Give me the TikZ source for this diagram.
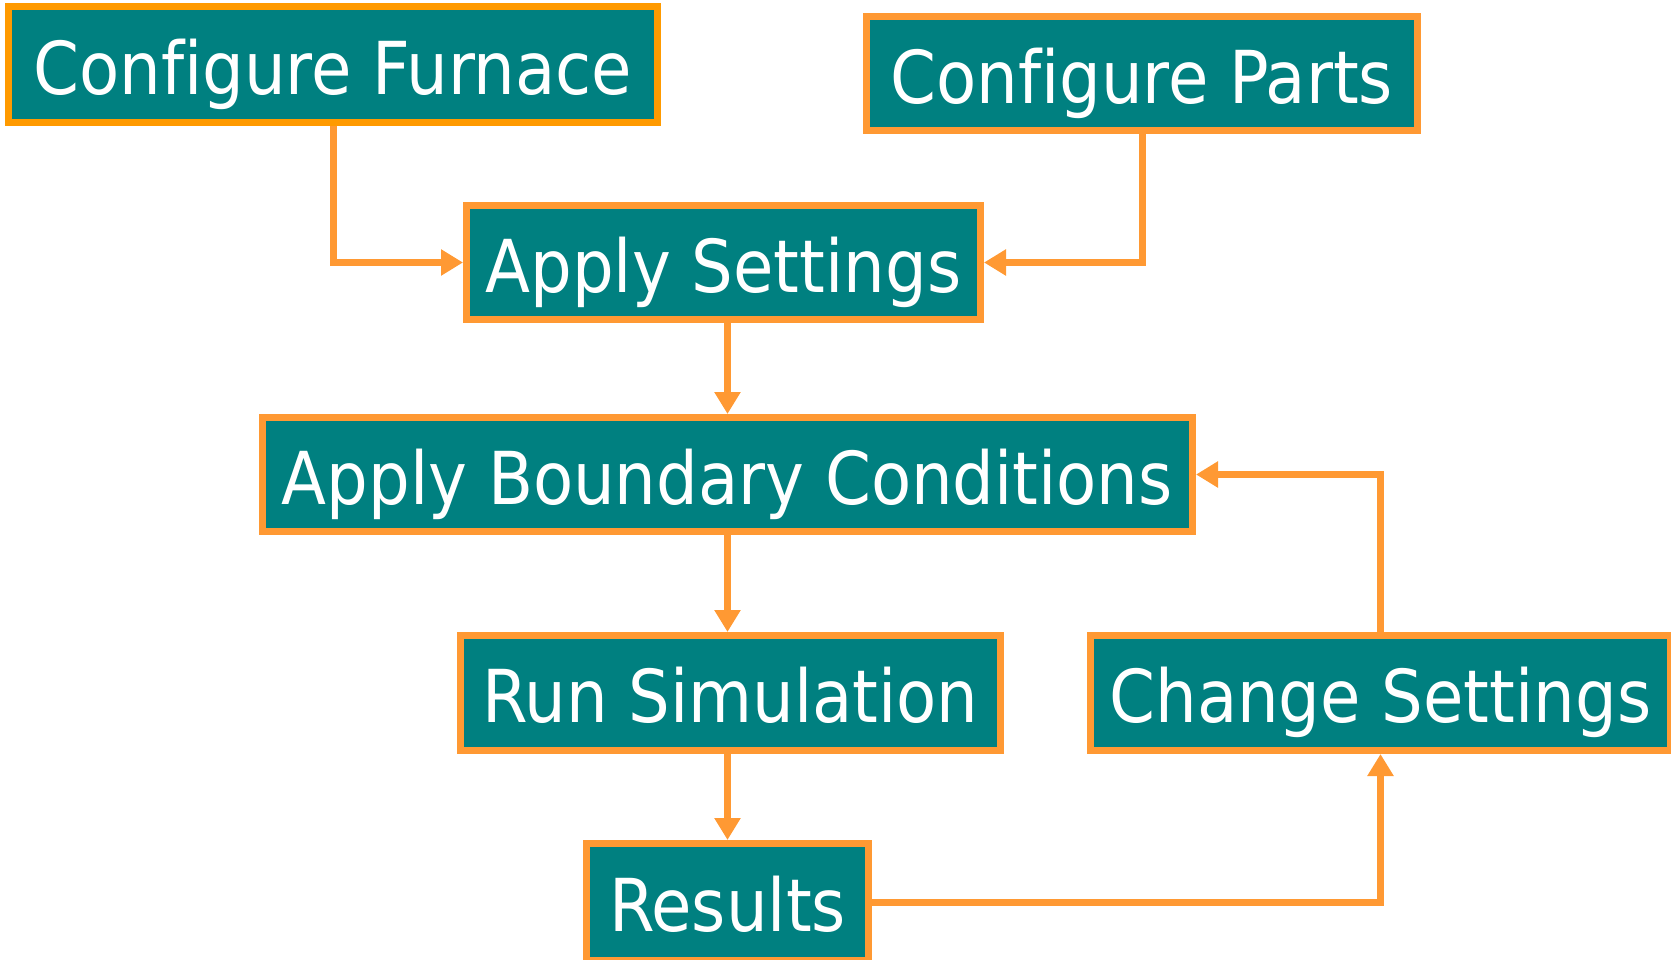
\documentclass[tikz,border=0pt]{standalone}
\usepackage{fontspec}
\usetikzlibrary{arrows.meta}
\newfontfamily\boxfont[Ligatures=NoCommon]{DejaVu Sans Condensed}
\definecolor{tealbox}{HTML}{008080}
\definecolor{orgline}{HTML}{FF9933}
\definecolor{orgdeep}{HTML}{FF9A00}
\tikzset{
  flowbox/.style={draw=orgline, line width=7pt, fill=tealbox, text=white, inner sep=0pt,
    font=\boxfont\fontsize{73}{73}\selectfont, text height=59pt, text depth=0pt, align=center},
  arr/.style={draw=orgline, line width=7pt, -{Triangle[length=22pt,width=25pt]}},
}
\begin{document}
\begin{tikzpicture}[x=1pt,y=-1pt]
\useasboundingbox (0,0) rectangle (1671,959);
\node[flowbox, draw=orgdeep, minimum width=649pt, minimum height=116pt] (cf) at (333,64.5) {Configure Furnace};
\node[flowbox, minimum width=551pt, minimum height=114pt] (cp) at (1142,73.5) {Configure Parts};
\node[flowbox, minimum width=514pt, minimum height=114pt] (as) at (723.5,262.5) {Apply Settings};
\node[flowbox, minimum width=930pt, minimum height=114pt] (abc) at (727.5,474.5) {Apply Boundary Conditions};
\node[flowbox, minimum width=540pt, minimum height=115pt] (rs) at (730.5,693) {Run Simulation};
\node[flowbox, minimum width=580pt, minimum height=115pt] (cs) at (1380.5,693) {Change Settings};
\node[flowbox, minimum width=282pt, minimum height=117pt] (res) at (727.5,902) {Results};
\draw[arr] (cf.south) |- (as.west);
\draw[arr] (cp.south) |- (as.east);
\draw[arr] (abc.north |- as.south) -- (abc.north);
\draw[arr] (abc.south) -- (abc.south |- rs.north);
\draw[arr] (res.north |- rs.south) -- (res.north);
\draw[arr] (res.east) -| (cs.south);
\draw[arr] (cs.north) |- (abc.east);
\end{tikzpicture}
\end{document}
